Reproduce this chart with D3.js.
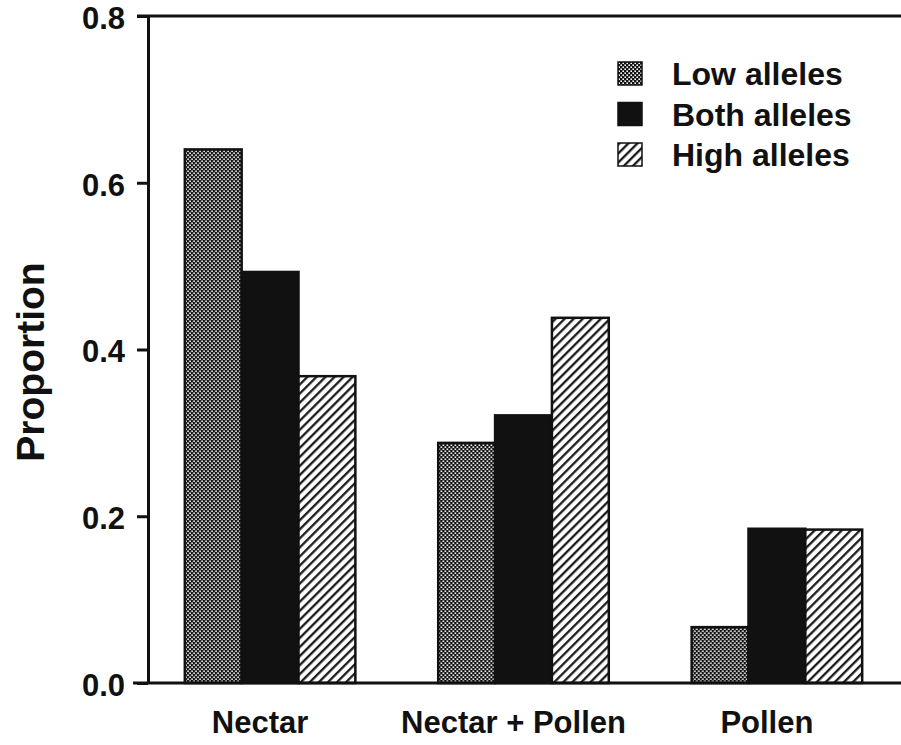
<!DOCTYPE html>
<html lang="en">
<head>
  <meta charset="UTF-8">
  <title>Proportion by reward type</title>
  <script src="https://d3js.org/d3.v7.min.js"></script>
  <style>
    body {
      margin: 0;
      background: #fff;
    }
    svg text {
      font-family: "Liberation Sans", Arial, Helvetica, sans-serif;
      font-weight: bold;
      fill: #111;
    }
    .axis path,
    .axis line {
      stroke: #111;
      stroke-width: 3;
    }
    .bar {
      stroke: #111;
      stroke-width: 2.5;
    }
  </style>
</head>
<body>
  <div id="chart"></div>
  <script>
    // values
    const categories = ["Nectar", "Nectar + Pollen", "Pollen"];
    const seriesNames = ["Low alleles", "Both alleles", "High alleles"];
    const lowAlleles = [0.640, 0.288, 0.067];
    const bothAlleles = [0.493, 0.321, 0.185];
    const highAlleles = [0.368, 0.438, 0.184];
    const yTicks = [0.0, 0.2, 0.4, 0.6, 0.8];

    const seriesValues = [lowAlleles, bothAlleles, highAlleles];
    const fills = ["url(#dots)", "#111", "url(#hatch)"];

    const svgWidth = 901;
    const svgHeight = 745;

    const xScale = d3.scaleBand()
      .domain(categories)
      .range([143, 904])
      .paddingInner(0.327)
      .paddingOuter(0.165);

    const xInner = d3.scaleBand()
      .domain(seriesNames)
      .range([0, xScale.bandwidth()]);

    const yScale = d3.scaleLinear()
      .domain([0, 0.8])
      .range([683, 16]);

    const svg = d3.select("#chart").append("svg")
      .attr("width", svgWidth)
      .attr("height", svgHeight);

    const defs = svg.append("defs");

    // stipple for low alleles
    const dots = defs.append("pattern")
      .attr("id", "dots")
      .attr("patternUnits", "userSpaceOnUse")
      .attr("width", 4)
      .attr("height", 4);
    dots.append("rect").attr("width", 4).attr("height", 4).attr("fill", "#111");
    dots.append("rect").attr("x", 0.4).attr("y", 0.4).attr("width", 1.6).attr("height", 1.6).attr("fill", "#fff");
    dots.append("rect").attr("x", 2.4).attr("y", 2.4).attr("width", 1.6).attr("height", 1.6).attr("fill", "#fff");

    // diagonal hatch for high alleles
    const hatch = defs.append("pattern")
      .attr("id", "hatch")
      .attr("patternUnits", "userSpaceOnUse")
      .attr("width", 6.4)
      .attr("height", 6.4)
      .attr("patternTransform", "rotate(45)");
    hatch.append("rect").attr("width", 6.4).attr("height", 6.4).attr("fill", "#fff");
    hatch.append("line")
      .attr("x1", 1.2).attr("y1", 0)
      .attr("x2", 1.2).attr("y2", 6.4)
      .attr("stroke", "#111")
      .attr("stroke-width", 2.2);

    // bars
    const groups = svg.selectAll(".group")
      .data(categories)
      .enter()
      .append("g")
      .attr("class", "group")
      .attr("transform", d => `translate(${xScale(d)},0)`);

    groups.selectAll(".bar")
      .data((c, ci) => seriesNames.map((s, si) => ({ s, si, v: seriesValues[si][ci] })))
      .enter()
      .append("rect")
      .attr("class", "bar")
      .attr("x", d => xInner(d.s))
      .attr("y", d => yScale(d.v))
      .attr("width", xInner.bandwidth())
      .attr("height", d => yScale(0) - yScale(d.v))
      .attr("fill", d => fills[d.si]);

    // frame lines top and bottom
    svg.append("line")
      .attr("x1", 137).attr("x2", svgWidth)
      .attr("y1", yScale(0.8)).attr("y2", yScale(0.8))
      .attr("stroke", "#111").attr("stroke-width", 3);
    svg.append("line")
      .attr("x1", 133).attr("x2", svgWidth)
      .attr("y1", yScale(0)).attr("y2", yScale(0))
      .attr("stroke", "#111").attr("stroke-width", 3);

    // y axis
    const yAxis = svg.append("g")
      .attr("class", "axis")
      .attr("transform", "translate(148,0)")
      .call(d3.axisLeft(yScale)
        .tickValues(yTicks)
        .tickFormat(d3.format(".1f"))
        .tickSize(11)
        .tickSizeOuter(0)
        .tickPadding(12));
    yAxis.selectAll("text")
      .attr("font-size", 31)
      .attr("dy", "0.4em");
    yAxis.select(".domain").attr("stroke-width", 3);

    // category labels
    svg.selectAll(".cat-label")
      .data(categories)
      .enter()
      .append("text")
      .attr("class", "cat-label")
      .attr("x", d => xScale(d) + xScale.bandwidth() / 2 - 10)
      .attr("y", 733)
      .attr("text-anchor", "middle")
      .attr("font-size", 31)
      .text(d => d);

    // axis title
    svg.append("text")
      .attr("transform", "translate(44,362) rotate(-90)")
      .attr("text-anchor", "middle")
      .attr("font-size", 39)
      .text("Proportion");

    // legend
    const legend = svg.selectAll(".legend")
      .data(seriesNames)
      .enter()
      .append("g")
      .attr("class", "legend")
      .attr("transform", (d, i) => `translate(618,${62 + i * 40.5})`);

    legend.append("rect")
      .attr("width", 24)
      .attr("height", 23)
      .attr("fill", (d, i) => fills[i])
      .attr("stroke", "#111")
      .attr("stroke-width", 1.5);

    legend.append("text")
      .attr("x", 54)
      .attr("y", 23)
      .attr("font-size", 32)
      .text(d => d);
  </script>
</body>
</html>
